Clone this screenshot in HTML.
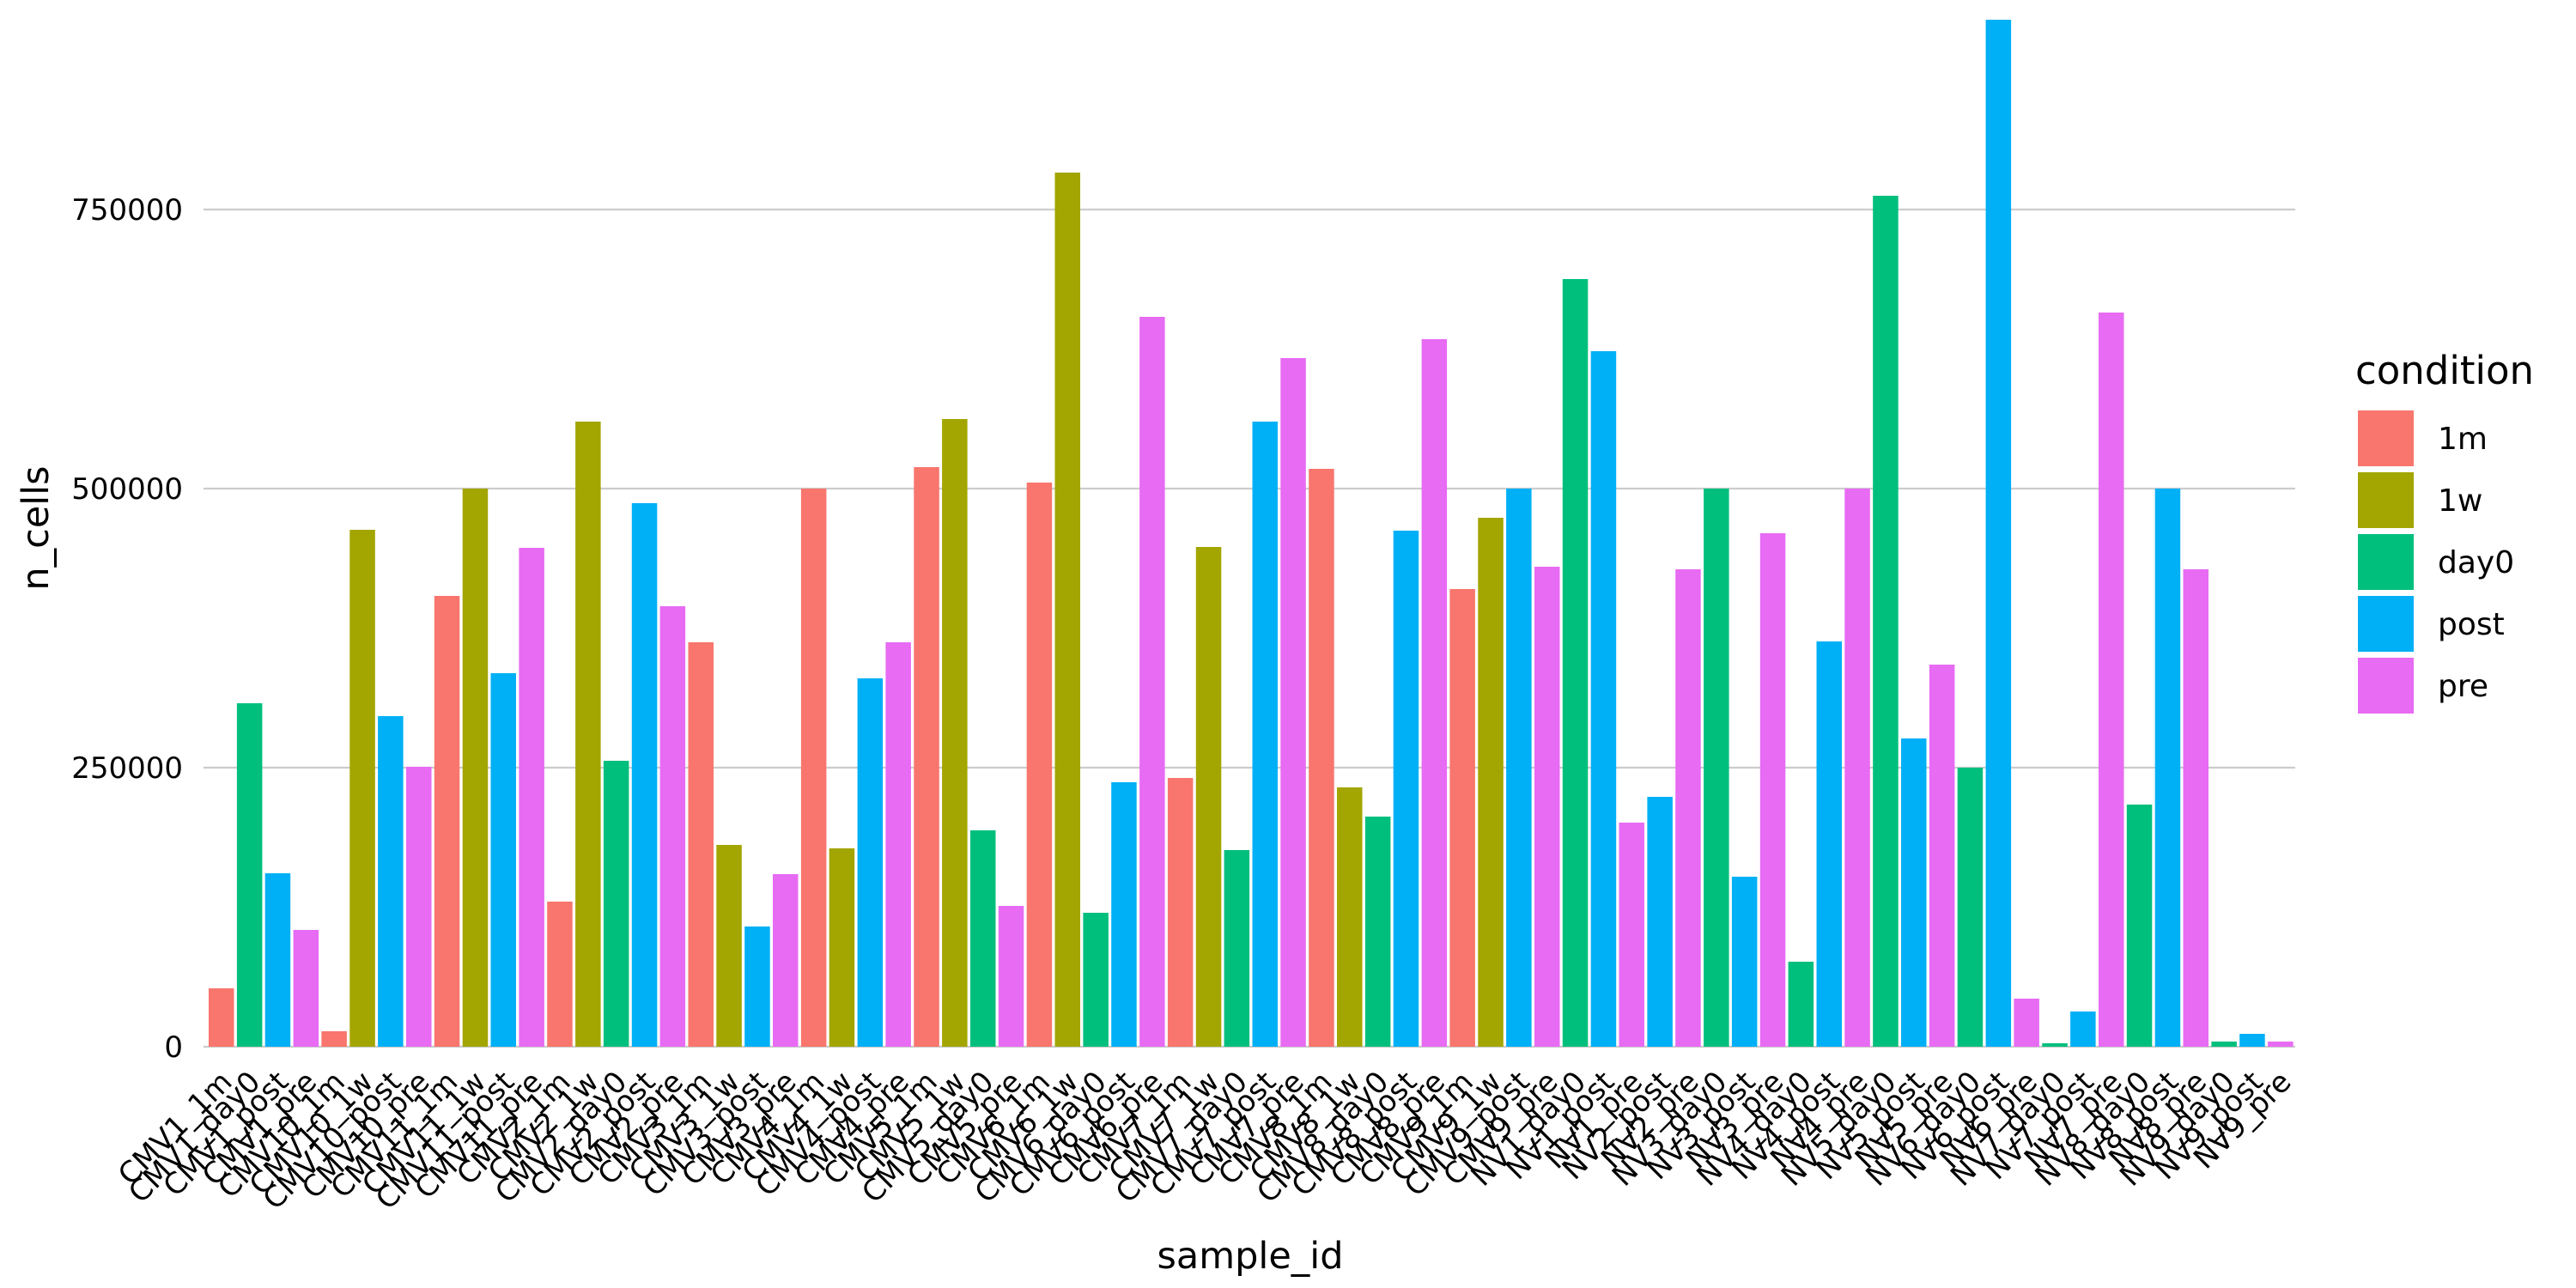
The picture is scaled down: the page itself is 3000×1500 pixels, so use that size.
<!DOCTYPE html>
<html><head><meta charset="utf-8"><style>
html,body{margin:0;padding:0;background:#fff;}
svg{display:block;font-family:"DejaVu Sans","Liberation Sans",sans-serif;}
</style></head><body>
<svg width="3000" height="1500" viewBox="0 0 3000 1500" xmlns="http://www.w3.org/2000/svg">
<rect width="3000" height="1500" fill="#fff"/>
<g stroke="#cccccc" stroke-width="2.2">
<line x1="237" y1="244" x2="2673" y2="244"/>
<line x1="237" y1="569" x2="2673" y2="569"/>
<line x1="237" y1="894" x2="2673" y2="894"/>
<line x1="237" y1="1219" x2="2673" y2="1219"/>
</g>
<g font-size="34" text-anchor="end" fill="#000">
<text x="213" y="256">750000</text>
<text x="213" y="581">500000</text>
<text x="213" y="906">250000</text>
<text x="213" y="1231">0</text>
</g>
<g>
<rect x="243.0" y="1151" width="29.5" height="68" fill="#F8766D"/>
<rect x="275.9" y="819" width="29.5" height="400" fill="#00BF7D"/>
<rect x="308.7" y="1017" width="29.5" height="202" fill="#00B0F6"/>
<rect x="341.6" y="1083" width="29.5" height="136" fill="#E76BF3"/>
<rect x="374.4" y="1201" width="29.5" height="18" fill="#F8766D"/>
<rect x="407.3" y="617" width="29.5" height="602" fill="#A3A500"/>
<rect x="440.1" y="834" width="29.5" height="385" fill="#00B0F6"/>
<rect x="473.0" y="893" width="29.5" height="326" fill="#E76BF3"/>
<rect x="505.8" y="694" width="29.5" height="525" fill="#F8766D"/>
<rect x="538.7" y="569" width="29.5" height="650" fill="#A3A500"/>
<rect x="571.5" y="784" width="29.5" height="435" fill="#00B0F6"/>
<rect x="604.4" y="638" width="29.5" height="581" fill="#E76BF3"/>
<rect x="637.2" y="1050" width="29.5" height="169" fill="#F8766D"/>
<rect x="670.1" y="491" width="29.5" height="728" fill="#A3A500"/>
<rect x="702.9" y="886" width="29.5" height="333" fill="#00BF7D"/>
<rect x="735.8" y="586" width="29.5" height="633" fill="#00B0F6"/>
<rect x="768.6" y="706" width="29.5" height="513" fill="#E76BF3"/>
<rect x="801.5" y="748" width="29.5" height="471" fill="#F8766D"/>
<rect x="834.3" y="984" width="29.5" height="235" fill="#A3A500"/>
<rect x="867.2" y="1079" width="29.5" height="140" fill="#00B0F6"/>
<rect x="900.0" y="1018" width="29.5" height="201" fill="#E76BF3"/>
<rect x="932.9" y="569" width="29.5" height="650" fill="#F8766D"/>
<rect x="965.7" y="988" width="29.5" height="231" fill="#A3A500"/>
<rect x="998.6" y="790" width="29.5" height="429" fill="#00B0F6"/>
<rect x="1031.4" y="748" width="29.5" height="471" fill="#E76BF3"/>
<rect x="1064.3" y="544" width="29.5" height="675" fill="#F8766D"/>
<rect x="1097.1" y="488" width="29.5" height="731" fill="#A3A500"/>
<rect x="1130.0" y="967" width="29.5" height="252" fill="#00BF7D"/>
<rect x="1162.8" y="1055" width="29.5" height="164" fill="#E76BF3"/>
<rect x="1195.7" y="562" width="29.5" height="657" fill="#F8766D"/>
<rect x="1228.5" y="201" width="29.5" height="1018" fill="#A3A500"/>
<rect x="1261.4" y="1063" width="29.5" height="156" fill="#00BF7D"/>
<rect x="1294.2" y="911" width="29.5" height="308" fill="#00B0F6"/>
<rect x="1327.1" y="369" width="29.5" height="850" fill="#E76BF3"/>
<rect x="1359.9" y="906" width="29.5" height="313" fill="#F8766D"/>
<rect x="1392.8" y="637" width="29.5" height="582" fill="#A3A500"/>
<rect x="1425.6" y="990" width="29.5" height="229" fill="#00BF7D"/>
<rect x="1458.5" y="491" width="29.5" height="728" fill="#00B0F6"/>
<rect x="1491.3" y="417" width="29.5" height="802" fill="#E76BF3"/>
<rect x="1524.2" y="546" width="29.5" height="673" fill="#F8766D"/>
<rect x="1557.0" y="917" width="29.5" height="302" fill="#A3A500"/>
<rect x="1589.9" y="951" width="29.5" height="268" fill="#00BF7D"/>
<rect x="1622.7" y="618" width="29.5" height="601" fill="#00B0F6"/>
<rect x="1655.6" y="395" width="29.5" height="824" fill="#E76BF3"/>
<rect x="1688.4" y="686" width="29.5" height="533" fill="#F8766D"/>
<rect x="1721.3" y="603" width="29.5" height="616" fill="#A3A500"/>
<rect x="1754.1" y="569" width="29.5" height="650" fill="#00B0F6"/>
<rect x="1787.0" y="660" width="29.5" height="559" fill="#E76BF3"/>
<rect x="1819.8" y="325" width="29.5" height="894" fill="#00BF7D"/>
<rect x="1852.7" y="409" width="29.5" height="810" fill="#00B0F6"/>
<rect x="1885.5" y="958" width="29.5" height="261" fill="#E76BF3"/>
<rect x="1918.4" y="928" width="29.5" height="291" fill="#00B0F6"/>
<rect x="1951.2" y="663" width="29.5" height="556" fill="#E76BF3"/>
<rect x="1984.1" y="569" width="29.5" height="650" fill="#00BF7D"/>
<rect x="2016.9" y="1021" width="29.5" height="198" fill="#00B0F6"/>
<rect x="2049.8" y="621" width="29.5" height="598" fill="#E76BF3"/>
<rect x="2082.6" y="1120" width="29.5" height="99" fill="#00BF7D"/>
<rect x="2115.5" y="747" width="29.5" height="472" fill="#00B0F6"/>
<rect x="2148.3" y="569" width="29.5" height="650" fill="#E76BF3"/>
<rect x="2181.2" y="228" width="29.5" height="991" fill="#00BF7D"/>
<rect x="2214.0" y="860" width="29.5" height="359" fill="#00B0F6"/>
<rect x="2246.9" y="774" width="29.5" height="445" fill="#E76BF3"/>
<rect x="2279.7" y="894" width="29.5" height="325" fill="#00BF7D"/>
<rect x="2312.6" y="23" width="29.5" height="1196" fill="#00B0F6"/>
<rect x="2345.4" y="1163" width="29.5" height="56" fill="#E76BF3"/>
<rect x="2378.3" y="1215" width="29.5" height="4" fill="#00BF7D"/>
<rect x="2411.1" y="1178" width="29.5" height="41" fill="#00B0F6"/>
<rect x="2444.0" y="364" width="29.5" height="855" fill="#E76BF3"/>
<rect x="2476.8" y="937" width="29.5" height="282" fill="#00BF7D"/>
<rect x="2509.7" y="569" width="29.5" height="650" fill="#00B0F6"/>
<rect x="2542.5" y="663" width="29.5" height="556" fill="#E76BF3"/>
<rect x="2575.4" y="1213" width="29.5" height="6" fill="#00BF7D"/>
<rect x="2608.2" y="1204" width="29.5" height="15" fill="#00B0F6"/>
<rect x="2641.1" y="1213" width="29.5" height="6" fill="#E76BF3"/>
</g>
<g font-size="34" text-anchor="end" fill="#000">
<text transform="translate(272,1262) rotate(-45)">CMV1_1m</text>
<text transform="translate(304.9,1262) rotate(-45)">CMV1_day0</text>
<text transform="translate(337.7,1262) rotate(-45)">CMV1_post</text>
<text transform="translate(370.6,1262) rotate(-45)">CMV1_pre</text>
<text transform="translate(403.4,1262) rotate(-45)">CMV10_1m</text>
<text transform="translate(436.3,1262) rotate(-45)">CMV10_1w</text>
<text transform="translate(469.1,1262) rotate(-45)">CMV10_post</text>
<text transform="translate(502.0,1262) rotate(-45)">CMV10_pre</text>
<text transform="translate(534.8,1262) rotate(-45)">CMV11_1m</text>
<text transform="translate(567.7,1262) rotate(-45)">CMV11_1w</text>
<text transform="translate(600.5,1262) rotate(-45)">CMV11_post</text>
<text transform="translate(633.4,1262) rotate(-45)">CMV11_pre</text>
<text transform="translate(666.2,1262) rotate(-45)">CMV2_1m</text>
<text transform="translate(699.1,1262) rotate(-45)">CMV2_1w</text>
<text transform="translate(731.9,1262) rotate(-45)">CMV2_day0</text>
<text transform="translate(764.8,1262) rotate(-45)">CMV2_post</text>
<text transform="translate(797.6,1262) rotate(-45)">CMV2_pre</text>
<text transform="translate(830.5,1262) rotate(-45)">CMV3_1m</text>
<text transform="translate(863.3,1262) rotate(-45)">CMV3_1w</text>
<text transform="translate(896.2,1262) rotate(-45)">CMV3_post</text>
<text transform="translate(929.0,1262) rotate(-45)">CMV3_pre</text>
<text transform="translate(961.9,1262) rotate(-45)">CMV4_1m</text>
<text transform="translate(994.7,1262) rotate(-45)">CMV4_1w</text>
<text transform="translate(1027.6,1262) rotate(-45)">CMV4_post</text>
<text transform="translate(1060.4,1262) rotate(-45)">CMV4_pre</text>
<text transform="translate(1093.3,1262) rotate(-45)">CMV5_1m</text>
<text transform="translate(1126.1,1262) rotate(-45)">CMV5_1w</text>
<text transform="translate(1159.0,1262) rotate(-45)">CMV5_day0</text>
<text transform="translate(1191.8,1262) rotate(-45)">CMV5_pre</text>
<text transform="translate(1224.7,1262) rotate(-45)">CMV6_1m</text>
<text transform="translate(1257.5,1262) rotate(-45)">CMV6_1w</text>
<text transform="translate(1290.4,1262) rotate(-45)">CMV6_day0</text>
<text transform="translate(1323.2,1262) rotate(-45)">CMV6_post</text>
<text transform="translate(1356.1,1262) rotate(-45)">CMV6_pre</text>
<text transform="translate(1388.9,1262) rotate(-45)">CMV7_1m</text>
<text transform="translate(1421.8,1262) rotate(-45)">CMV7_1w</text>
<text transform="translate(1454.6,1262) rotate(-45)">CMV7_day0</text>
<text transform="translate(1487.5,1262) rotate(-45)">CMV7_post</text>
<text transform="translate(1520.3,1262) rotate(-45)">CMV7_pre</text>
<text transform="translate(1553.2,1262) rotate(-45)">CMV8_1m</text>
<text transform="translate(1586.0,1262) rotate(-45)">CMV8_1w</text>
<text transform="translate(1618.9,1262) rotate(-45)">CMV8_day0</text>
<text transform="translate(1651.7,1262) rotate(-45)">CMV8_post</text>
<text transform="translate(1684.6,1262) rotate(-45)">CMV8_pre</text>
<text transform="translate(1717.4,1262) rotate(-45)">CMV9_1m</text>
<text transform="translate(1750.3,1262) rotate(-45)">CMV9_1w</text>
<text transform="translate(1783.1,1262) rotate(-45)">CMV9_post</text>
<text transform="translate(1816.0,1262) rotate(-45)">CMV9_pre</text>
<text transform="translate(1848.8,1262) rotate(-45)">NV1_day0</text>
<text transform="translate(1881.7,1262) rotate(-45)">NV1_post</text>
<text transform="translate(1914.5,1262) rotate(-45)">NV1_pre</text>
<text transform="translate(1947.4,1262) rotate(-45)">NV2_post</text>
<text transform="translate(1980.2,1262) rotate(-45)">NV2_pre</text>
<text transform="translate(2013.1,1262) rotate(-45)">NV3_day0</text>
<text transform="translate(2045.9,1262) rotate(-45)">NV3_post</text>
<text transform="translate(2078.8,1262) rotate(-45)">NV3_pre</text>
<text transform="translate(2111.6,1262) rotate(-45)">NV4_day0</text>
<text transform="translate(2144.5,1262) rotate(-45)">NV4_post</text>
<text transform="translate(2177.3,1262) rotate(-45)">NV4_pre</text>
<text transform="translate(2210.2,1262) rotate(-45)">NV5_day0</text>
<text transform="translate(2243.0,1262) rotate(-45)">NV5_post</text>
<text transform="translate(2275.9,1262) rotate(-45)">NV5_pre</text>
<text transform="translate(2308.7,1262) rotate(-45)">NV6_day0</text>
<text transform="translate(2341.6,1262) rotate(-45)">NV6_post</text>
<text transform="translate(2374.4,1262) rotate(-45)">NV6_pre</text>
<text transform="translate(2407.3,1262) rotate(-45)">NV7_day0</text>
<text transform="translate(2440.1,1262) rotate(-45)">NV7_post</text>
<text transform="translate(2473.0,1262) rotate(-45)">NV7_pre</text>
<text transform="translate(2505.8,1262) rotate(-45)">NV8_day0</text>
<text transform="translate(2538.7,1262) rotate(-45)">NV8_post</text>
<text transform="translate(2571.5,1262) rotate(-45)">NV8_pre</text>
<text transform="translate(2604.4,1262) rotate(-45)">NV9_day0</text>
<text transform="translate(2637.2,1262) rotate(-45)">NV9_post</text>
<text transform="translate(2670.1,1262) rotate(-45)">NV9_pre</text>
</g>
<text x="1456" y="1477" font-size="43" text-anchor="middle">sample_id</text>
<text transform="translate(56,615) rotate(-90)" font-size="43" text-anchor="middle">n_cells</text>
<text x="2743" y="447" font-size="45">condition</text>
<g stroke="#ffffff" stroke-width="2">
<rect x="2745" y="477" width="67" height="67" fill="#F8766D"/>
<rect x="2745" y="549" width="67" height="67" fill="#A3A500"/>
<rect x="2745" y="621" width="67" height="67" fill="#00BF7D"/>
<rect x="2745" y="693" width="67" height="67" fill="#00B0F6"/>
<rect x="2745" y="765" width="67" height="67" fill="#E76BF3"/>
</g>
<g font-size="36">
<text x="2839" y="523">1m</text>
<text x="2839" y="595">1w</text>
<text x="2839" y="667">day0</text>
<text x="2839" y="739">post</text>
<text x="2839" y="811">pre</text>
</g>
</svg>
</body></html>
